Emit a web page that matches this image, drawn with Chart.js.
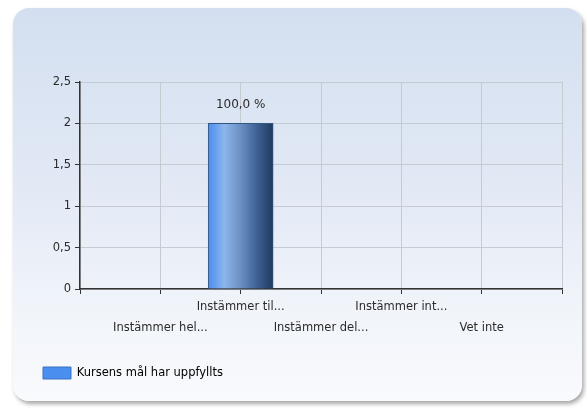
<!DOCTYPE html>
<html>
<head>
<meta charset="utf-8">
<script src="https://cdn.jsdelivr.net/npm/chart.js@4/dist/chart.umd.min.js"></script>
<style>
    html, body { margin: 0; padding: 0; background: #ffffff; }
    #wrap { position: relative; width: 587px; height: 408px; }
    #card {
        position: absolute; left: 13px; top: 8px; width: 569px; height: 393px;
        border-radius: 16px;
        background: linear-gradient(#d3dff0 0%, #e2e9f5 45%, #f0f4fa 75%, #f9fafd 100%);
        box-shadow: 2px 3px 4px rgba(0, 0, 0, 0.35);
    }
    #chart { position: absolute; left: 0; top: 0; }
</style>
</head>
<body>
<div id="wrap">
    <div id="card"></div>
    <canvas id="chart" width="587" height="408"></canvas>
</div>
<script>
const categories = ["Instämmer hel...", "Instämmer til...", "Instämmer del...", "Instämmer int...", "Vet inte"];
const values = [0, 2, 0, 0, 0];
const seriesName = "Kursens mål har uppfyllts";
const yTicks = [0, 0.5, 1, 1.5, 2, 2.5];

document.addEventListener("DOMContentLoaded", function () {
    let ctx = document.getElementById("chart").getContext("2d");
    const font = "'DejaVu Sans', sans-serif";

    // empty slot on each side so the categories sit on the grid lines
    const labels = [""].concat(categories, [""]);
    const data = [null].concat(values, [null]);
    const total = values.reduce((a, b) => a + b, 0);

    // percentage above each bar
    const valueLabels = {
        id: "valueLabels",
        afterDatasetsDraw(chart) {
            const c = chart.ctx;
            const meta = chart.getDatasetMeta(0);
            c.save();
            c.font = "12px " + font;
            c.fillStyle = "#2b2b2b";
            c.textAlign = "center";
            c.textBaseline = "middle";
            meta.data.forEach((bar, i) => {
                const v = data[i];
                if (!v) return;
                const pct = (v / total * 100).toFixed(1).replace(".", ",") + " %";
                c.fillText(pct, bar.x, bar.y - 19);
            });
            c.restore();
        }
    };

    new Chart(ctx, {
        type: "bar",
        data: {
            labels: labels,
            datasets: [{
                label: seriesName,
                data: data,
                barThickness: 65,
                borderWidth: 1,
                borderColor: "#34557f",
                backgroundColor: function (context) {
                    const chart = context.chart;
                    if (!chart.chartArea || !chart.scales.x) return "#4a8ef0";
                    const x = chart.scales.x.getPixelForValue(context.dataIndex);
                    const g = chart.ctx.createLinearGradient(x - 32.5, 0, x + 32.5, 0);
                    g.addColorStop(0, "#4a8ef0");
                    g.addColorStop(0.25, "#8db6ec");
                    g.addColorStop(0.5, "#6a8fc2");
                    g.addColorStop(0.75, "#3f6193");
                    g.addColorStop(1, "#1e3961");
                    return g;
                }
            }]
        },
        options: {
            responsive: false,
            animation: false,
            layout: { padding: { left: 33, right: 25, top: 82, bottom: 19 } },
            plugins: {
                tooltip: { enabled: false },
                legend: {
                    position: "bottom",
                    align: "start",
                    labels: {
                        boxWidth: 28,
                        boxHeight: 12,
                        padding: 10,
                        color: "#1a1a1a",
                        font: { family: font, size: 11.5 },
                        generateLabels: function () {
                            return [{ text: seriesName, fillStyle: "#4a8ef0", strokeStyle: "#3b72c0", lineWidth: 1, datasetIndex: 0 }];
                        }
                    }
                }
            },
            scales: {
                x: {
                    offset: false,
                    afterFit: function (scale) { scale.height = 68; },
                    grid: { offset: false, color: "#c6cad1", tickColor: "#333333", tickLength: 5 },
                    border: { color: "#333333", width: 1.5 },
                    ticks: {
                        autoSkip: false,
                        maxRotation: 0,
                        padding: 2,
                        color: "#2b2b2b",
                        font: { family: font, size: 11.5, lineHeight: 1.85 },
                        callback: function (value, index) {
                            const lab = this.getLabelForValue(value);
                            if (!lab) return "";
                            return index % 2 === 0 ? [lab, ""] : ["", lab];
                        }
                    }
                },
                y: {
                    min: 0,
                    max: 2.5,
                    afterFit: function (scale) { scale.width = 47; },
                    afterBuildTicks: function (scale) { scale.ticks = yTicks.map(v => ({ value: v })); },
                    grid: { color: "#c6cad1", tickColor: "#333333", tickLength: 5 },
                    border: { color: "#333333", width: 1.5 },
                    ticks: {
                        padding: 4,
                        color: "#2b2b2b",
                        font: { family: font, size: 11.5 },
                        callback: function (value) { return String(value).replace(".", ","); }
                    }
                }
            }
        },
        plugins: [valueLabels]
    });
});
</script>
</body>
</html>
